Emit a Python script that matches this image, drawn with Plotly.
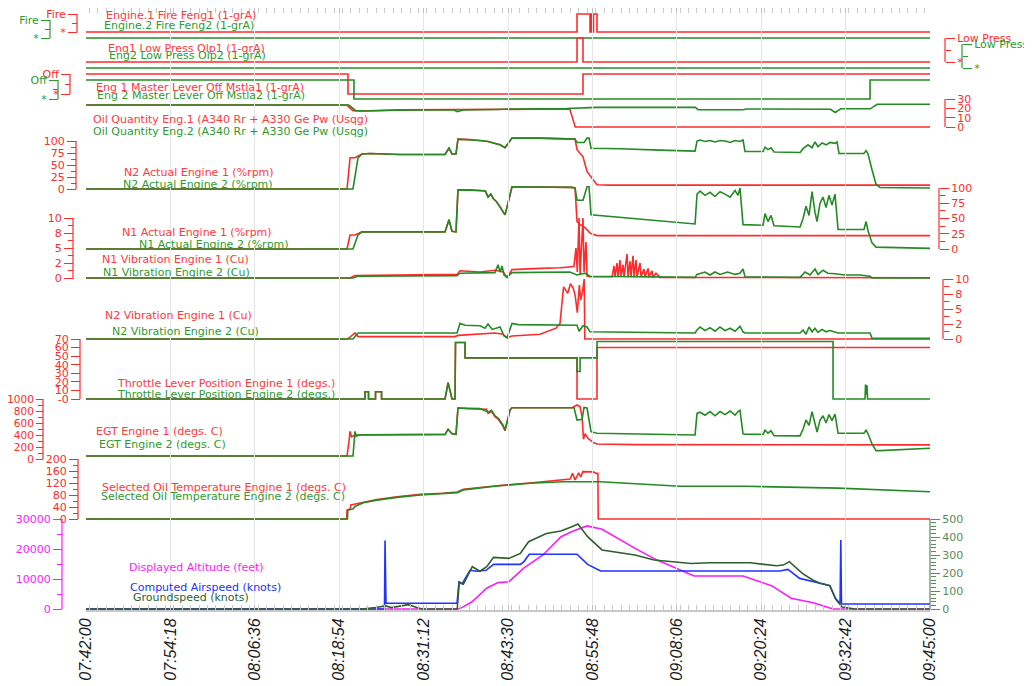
import pandas as pd
import plotly.graph_objects as go

W, H = 1032, 686
START = pd.Timestamp("2000-01-01 07:42:00")
SPAN_MIN = 123.0

# ---------------- data: (minutes after 07:42:00, value) ----------------
fire_eng1 = [(0, 0), (71.56, 1), (73.45, 0), (73.60, 1), (73.82, 0), (73.96, 1), (74.47, 0), (123, 0)]
fire_eng2 = [(0, 0), (123, 0)]
lowpress_eng1 = [(0, 0), (71.56, 1), (72.43, 0), (123, 0)]
lowpress_eng2 = [(0, 0), (123, 0)]
master_eng1 = [(0, 1), (38.18, 0), (72.43, 1), (123, 1)]
master_eng2 = [(0, 1), (39.05, 0), (114.26, 1), (123, 1)]

oilqty_eng1 = [(0, 23.5), (38.0, 23.5), (38.9, 17.5), (40.2, 17.2), (45.8, 18.3), (54.0, 18.8),
               (62.0, 19.3), (70.5, 19.3), (71.3, 0), (123, 0)]
oilqty_eng2 = [(0, 23.5), (38.3, 23.5), (39.3, 17.5), (40.5, 17.2), (45.0, 18.0), (53.5, 18.5),
               (54.1, 16.5), (55.0, 18.3), (60.0, 18.8), (62.1, 19.3), (70.0, 19.8), (73.5, 20.3),
               (74.5, 21.0), (88.8, 21.0), (89.2, 18.5), (95.75, 18.5), (96.2, 19.3), (108.5, 19.0),
               (109.2, 15.5), (109.6, 17.5), (110.0, 19.5), (114.3, 19.5), (115.3, 24.3), (123, 24.3)]

n2_eng1 = [(0, 0), (38.04, 0), (38.48, 65), (39.20, 65), (40.22, 73), (41.39, 74), (45.76, 72),
           (52.32, 72), (52.90, 85), (53.34, 73), (53.92, 73), (54.21, 104), (55.96, 103),
           (57.42, 101), (58.59, 99), (59.61, 95), (60.34, 92), (61.06, 86), (61.50, 95),
           (62.08, 106), (66.17, 106), (70.83, 105), (71.27, 104), (71.56, 82), (72.43, 67),
           (73.02, 36), (73.89, 19), (74.47, 9), (76.37, 8), (123, 8)]
n2_eng2 = [(0, 0), (38.91, 0), (39.64, 65), (40.22, 73), (41.39, 74), (45.76, 72), (52.32, 72),
           (52.90, 85), (53.34, 73), (53.92, 73), (54.21, 104), (55.96, 103), (57.42, 101),
           (58.59, 99), (59.61, 95), (60.34, 92), (61.06, 86), (61.50, 95), (62.08, 106),
           (66.17, 106), (70.83, 105), (71.27, 104), (71.56, 97), (72.58, 97), (73.02, 106),
           (73.31, 106), (73.60, 85), (77.82, 84), (83.65, 81), (88.76, 79), (89.05, 100),
           (89.49, 102), (90.22, 99), (90.94, 101), (91.67, 98), (92.40, 101), (93.13, 100),
           (93.86, 97), (94.59, 101), (95.31, 99), (95.75, 102), (96.04, 78), (98.67, 78),
           (98.96, 87), (99.39, 82), (99.83, 86), (100.27, 77), (104.06, 76), (104.50, 84),
           (105.22, 92), (105.81, 86), (106.24, 98), (106.68, 88), (107.26, 96), (107.85, 92),
           (108.43, 97), (109.16, 95), (109.45, 98), (109.74, 74), (113.38, 74), (113.68, 80),
           (113.97, 73), (114.55, 40), (115.13, 10), (115.72, 3), (123, 2)]

n1_eng1 = [(0, 0), (38.04, 0), (38.48, 23), (39.20, 23), (40.22, 28), (52.32, 28), (52.90, 48),
           (53.34, 29), (53.92, 28), (54.21, 97), (55.96, 97), (57.42, 96), (58.2, 95), (58.6, 85),
           (59.0, 90), (59.4, 82), (59.8, 78), (60.3, 70), (60.8, 62), (61.06, 56), (61.50, 75),
           (62.08, 102), (70.83, 101), (71.27, 100), (71.56, 45), (72.00, 40), (72.73, 35),
           (73.45, 26), (74.47, 22), (123, 22)]
n1_eng2 = [(0, 0), (38.91, 0), (39.64, 23), (40.22, 28), (52.32, 28), (52.90, 48), (53.34, 29),
           (53.92, 28), (54.21, 97), (55.96, 97), (57.42, 96), (58.2, 95), (58.6, 85), (59.0, 90),
           (59.4, 82), (59.8, 78), (60.3, 70), (60.8, 62), (61.06, 56), (61.50, 75), (62.08, 102),
           (70.83, 101), (71.27, 100), (71.56, 80), (72.43, 80), (73.02, 102), (73.31, 102),
           (73.60, 56), (77.82, 52), (83.65, 46), (88.76, 41), (89.05, 90), (89.49, 95),
           (90.22, 88), (90.94, 93), (91.67, 86), (92.40, 94), (93.13, 90), (93.86, 85),
           (94.59, 96), (95.02, 88), (95.31, 100), (95.75, 40), (98.67, 39), (98.96, 58),
           (99.39, 45), (99.83, 55), (100.27, 38), (104.06, 36), (104.50, 50), (104.93, 70),
           (105.37, 55), (105.81, 94), (106.24, 60), (106.54, 45), (106.97, 75), (107.41, 85),
           (107.85, 68), (108.28, 88), (108.72, 72), (109.16, 90), (109.60, 32), (113.38, 32),
           (113.68, 45), (113.97, 30), (114.55, 10), (115.13, 3), (123, 1)]

n1vib_eng1 = [(0, 0), (38.48, 0), (39.2, 0.4), (45.8, 0.5), (54.07, 0.6), (54.5, 1.2), (57.4, 1.0),
              (59.6, 1.3), (60.8, 1.0), (61.36, 0.1), (62.08, 1.4), (66.2, 1.6), (69.1, 1.7),
              (71.1, 1.9), (71.41, 5.0), (71.6, 1.0), (71.85, 10), (72.0, 0.5), (72.43, 10),
              (72.58, 1.0), (72.87, 6.0), (73.02, 0.3), (73.45, 0.2), (76.66, 0.2), (76.95, 2.0),
              (77.10, 0.2), (77.39, 2.5), (77.54, 0.2), (77.82, 3.0), (77.97, 0.3), (78.26, 2.2),
              (78.41, 0.2), (78.85, 4.0), (78.99, 0.3), (79.28, 2.8), (79.43, 0.2), (79.72, 3.7),
              (79.87, 0.3), (80.16, 3.0), (80.30, 0.2), (80.74, 2.5), (80.89, 0.2), (81.32, 1.5),
              (81.47, 0.2), (81.91, 1.6), (82.05, 0.2), (82.49, 1.2), (82.64, 0.1), (83.07, 0.8),
              (83.65, 0.1), (123, 0.05)]
n1vib_eng2 = [(0, 0), (38.91, 0), (39.64, 0.3), (54.07, 0.4), (54.5, 0.8), (59.6, 0.9), (60.05, 2.2),
              (60.34, 1.0), (60.63, 2.0), (60.92, 0.5), (61.36, 0.1), (62.08, 0.9), (70.5, 1.0),
              (71.56, 0.5), (72.73, 0.8), (73.45, 0.3), (88.76, 0.1), (89.05, 0.6), (90.22, 1.0),
              (90.94, 0.5), (91.67, 1.0), (92.40, 0.6), (93.5, 1.0), (94.59, 0.6), (95.31, 0.8),
              (95.75, 1.5), (96.04, 0.2), (104.06, 0.1), (104.79, 1.0), (105.52, 0.5), (106.24, 1.5),
              (106.68, 0.6), (107.41, 1.3), (108.1, 0.8), (109.16, 0.7), (110.6, 0.5), (112.8, 0.5),
              (114.26, 0.3), (114.55, 0), (123, 0)]

n2vib_eng1 = [(0, 0), (38.04, 0), (38.48, 0.3), (39.2, 1.0), (39.64, 0.4), (53.78, 0.4), (54.21, 0.6),
              (57.42, 0.8), (59.61, 1.0), (60.77, 0.8), (61.36, 0.2), (62.08, 0.5), (66.17, 0.8),
              (68.5, 1.8), (69.08, 2.6), (69.6, 8.7), (70.2, 7.6), (70.6, 9.2), (71.0, 8.5),
              (71.3, 7.2), (71.6, 4.4), (71.9, 9.0), (72.1, 6.5), (72.4, 8.2), (72.6, 10),
              (72.7, 0), (123, 0)]
n2vib_eng2 = [(0, 0), (38.91, 0), (39.64, 1.0), (54.07, 1.0), (54.5, 2.6), (55.24, 2.3), (57.42, 2.2),
              (58.15, 1.8), (58.59, 2.5), (59.2, 1.6), (60.34, 2.0), (60.92, 0.5), (61.36, 0.2),
              (62.08, 2.6), (63.0, 2.4), (70.54, 2.4), (71.56, 2.3), (71.85, 1.3), (72.43, 2.2),
              (73.02, 2.0), (73.45, 1.2), (88.76, 1.0), (89.05, 1.5), (89.49, 2.0), (90.22, 1.4),
              (90.94, 1.9), (91.67, 1.3), (92.40, 2.0), (93.13, 1.4), (93.86, 1.8), (94.59, 1.3),
              (95.31, 2.1), (95.75, 1.2), (96.04, 1.0), (104.06, 1.0), (104.50, 1.5), (104.93, 0.8),
              (105.37, 2.0), (105.81, 1.2), (106.24, 1.8), (106.68, 1.1), (107.26, 1.6),
              (107.85, 1.2), (108.43, 1.4), (109.16, 1.1), (109.60, 1.0), (114.26, 1.0),
              (114.55, 0.1), (123, 0.1)]

tla_eng1 = [(0, 0), (40.66, 0), (40.66, 8.5), (41.17, 8.5), (41.17, 0), (42.19, 0), (42.19, 8.5),
            (43.07, 8.5), (43.07, 0), (52.32, 0), (52.61, 12), (52.76, 19), (53.05, 10), (53.34, 0),
            (53.78, 0), (53.85, 66), (55.24, 66), (55.24, 48), (71.56, 48), (71.56, 0), (74.47, 0),
            (74.47, 60), (123, 60)]
tla_eng2 = [(0, 0), (40.66, 0), (40.66, 8.5), (41.17, 8.5), (41.17, 0), (42.19, 0), (42.19, 8.5),
            (43.07, 8.5), (43.07, 0), (52.32, 0), (52.61, 12), (52.76, 19), (53.05, 10), (53.34, 0),
            (53.78, 0), (53.85, 66), (55.24, 66), (55.24, 48), (71.56, 48), (71.56, 32), (72.0, 32),
            (72.0, 48), (74.47, 48), (74.47, 67), (108.87, 67), (108.87, 0), (113.53, 0),
            (113.6, 17), (113.75, 5), (113.82, 16), (113.9, 0), (123, 0)]

egt_eng1 = [(0, 50), (38.04, 50), (38.33, 300), (38.48, 460), (38.7, 370), (39.2, 400), (40.5, 400),
            (52.32, 410), (52.76, 495), (53.34, 420), (53.92, 410), (54.21, 850), (55.5, 840),
            (57.42, 830), (58.4, 830), (58.6, 760), (59.1, 790), (59.6, 705), (60.1, 660),
            (60.8, 540), (61.06, 470), (61.8, 815), (62.08, 855), (70.83, 855), (71.27, 880),
            (71.56, 900), (72.0, 870), (72.3, 700), (72.5, 330), (72.73, 420), (73.2, 340),
            (74.0, 270), (74.47, 250), (80, 240), (123, 235)]
egt_eng2 = [(0, 50), (38.91, 50), (39.2, 460), (39.4, 380), (39.7, 400), (40.5, 405), (52.32, 410),
            (52.76, 495), (53.34, 420), (53.92, 410), (54.21, 850), (57.42, 840), (58.6, 780),
            (59.1, 810), (59.6, 720), (60.1, 680), (60.8, 560), (61.06, 480), (61.8, 820),
            (62.08, 855), (71.12, 855), (71.56, 650), (72.3, 660), (72.58, 860), (73.02, 850),
            (73.6, 455), (74.47, 430), (88.76, 400), (89.05, 760), (89.49, 780), (90.22, 730),
            (90.94, 790), (91.67, 720), (92.40, 790), (93.13, 740), (93.86, 800), (94.59, 730),
            (95.02, 790), (95.31, 810), (95.75, 420), (96.04, 415), (98.67, 410), (98.96, 480),
            (99.39, 430), (99.83, 470), (100.27, 390), (104.06, 385), (104.50, 500), (104.93, 650),
            (105.37, 560), (105.81, 790), (106.24, 580), (106.54, 450), (106.97, 650),
            (107.41, 720), (107.85, 600), (108.28, 740), (108.72, 640), (109.16, 750),
            (109.60, 430), (113.38, 430), (113.68, 480), (113.97, 420), (114.55, 250),
            (115.13, 140), (115.72, 140), (123, 180)]

oiltemp_eng1 = [(0, 0), (38.0, 0), (38.04, 30), (38.5, 33), (38.6, 47), (40.4, 56), (42.4, 65),
                (45.3, 74), (48.7, 82), (52, 86), (54.1, 90), (55, 99), (59.9, 111), (64.7, 120),
                (69.08, 128), (70.54, 133), (70.9, 152), (71.27, 130), (71.8, 154), (72.1, 140),
                (72.4, 158), (73.0, 158), (73.9, 157), (74.4, 152), (74.6, 152), (74.65, 0), (123, 0)]
oiltemp_eng2 = [(0, 0), (38.1, 0), (38.15, 30), (38.9, 33), (39.2, 42), (40.4, 54), (42.4, 63),
                (45.3, 72), (48.7, 80), (52, 84), (54.1, 88), (55.0, 97), (59.9, 110), (64.7, 119),
                (69.5, 124), (74.9, 124), (79.3, 119), (86.6, 109), (96, 109), (104, 106),
                (109.6, 103), (123, 91)]

altitude = [(0, 0), (54.07, 0), (54.65, 300), (56.26, 2400), (58.44, 7000), (60.05, 8800),
            (61.65, 9100), (63.83, 13700), (66.6, 18000), (69.23, 24100), (70.83, 25800),
            (73.02, 27700), (75.2, 26600), (80.01, 20200), (83.22, 16300), (88.61, 11000),
            (95.75, 11000), (99.98, 7700), (102.75, 3600), (105.95, 2100), (108.87, 0), (123, 0)]
airspeed = [(0, 0), (43.5, 0), (43.58, 380), (43.72, 32), (54.07, 32), (54.36, 150), (54.8, 140),
            (55.96, 215), (57.0, 210), (58.3, 215), (59.4, 248), (63.3, 248), (63.8, 262),
            (64.6, 304), (71.56, 304), (73.1, 248), (75.0, 211), (101.1, 211), (102.3, 220),
            (104.0, 170), (106.2, 150), (108.4, 130), (109.2, 60), (109.9, 32), (110.0, 383),
            (110.1, 28), (123, 28)]
groundspeed = [(0, 0), (40.2, 0), (42.2, 8), (43.7, 17), (44.5, 8), (46.0, 20), (47.0, 24),
               (48.2, 8), (49.0, 0), (54.1, 0), (54.4, 150), (55.0, 138), (56.3, 235), (57.4, 210),
               (58.4, 235), (59.4, 287), (61.6, 281), (63.3, 309), (64.5, 374), (67.1, 420),
               (69.2, 433), (70.8, 457), (71.7, 472), (73.1, 402), (75.2, 328), (80.0, 300),
               (82.8, 272), (88.2, 253), (90.8, 257), (96.8, 257), (100.6, 240), (101.6, 244),
               (102.5, 263), (104.4, 198), (105.9, 161), (106.9, 145), (108.4, 130), (109.3, 52),
               (110.2, 11), (111.2, 5), (112.0, 0), (123, 0)]

# ---------------- styling ----------------
FONT = "DejaVu Sans"
RED = "#ff2b2b"
RED_T = "#ff3a3a"
GREEN = "#248a24"
GREEN_T = "#2f9a2f"
MAGENTA = "#ff1aff"
BLUE = "#2233ff"
GS_COL = "#2f5f2f"
SPD_COL = "#5b8a5b"
LW = 1.6

# the page places the figure 8 px in from the window corner; positions below are window pixels
OFF = 8
PLOT_TOP, PLOT_BOT = 8, 610
X_LEFT, X_RIGHT = 86, 930


def fx(px):
    return (px - OFF) / W


def fy(py):
    return (PLOT_BOT - py) / (PLOT_BOT - PLOT_TOP)


def yrange(v0, p0, v1, p1):
    k = (v1 - v0) / (p1 - p0)
    return [v0 + (PLOT_BOT - p0) * k, v0 + (PLOT_TOP - p0) * k]


def to_xy(pts):
    t, v = zip(*pts)
    return [START + pd.Timedelta(minutes=m) for m in t], list(v)


# key, side, x pixel, (value, pixel, value, pixel), colour, ticks, labels, minor ticks, tick length, font size
axis_specs = [
    ("fire1", "left", 77, (0, 32, 1, 14), RED, [0, 1], ["*", "Fire"], [0.5], 9, 11),
    ("fire2", "left", 50, (0, 38, 1, 20), GREEN_T, [0, 1], ["*", "Fire"], [0.5], 9, 11),
    ("olp1", "right", 945, (0, 62, 1, 38), RED, [0, 1], ["*", "Low Press"], [0.5], 9, 11),
    ("olp2", "right", 962, (0, 68, 1, 44), GREEN_T, [0, 1], ["*", "Low Press"], [0.5], 9, 11),
    ("mst1", "left", 70, (0, 94, 1, 74), RED, [0, 1], ["*", "Off"], [0.5], 9, 11),
    ("mst2", "left", 58, (0, 99, 1, 80), GREEN_T, [0, 1], ["*", "Off"], [0.5], 9, 11),
    ("oilq", "right", 945, (0, 127, 30, 99), RED, [0, 10, 20, 30], ["0", "10", "20", "30"], [], 9, 11),
    ("n2", "left", 76, (0, 189, 100, 141), RED, [0, 25, 50, 75, 100], ["0", "25", "50", "75", "100"],
     [12.5, 37.5, 62.5, 87.5], 9, 11),
    ("n1", "right", 939, (0, 249, 100, 188), RED, [0, 25, 50, 75, 100], ["0", "25", "50", "75", "100"],
     [12.5, 37.5, 62.5, 87.5], 9, 11),
    ("n1v", "left", 73, (0, 278, 10, 218), RED, [0, 2.5, 5, 7.5, 10], ["0", "2", "5", "8", "10"],
     [1.25, 3.75, 6.25, 8.75], 9, 11),
    ("n2v", "right", 943, (0, 339, 10, 279), RED, [0, 2.5, 5, 7.5, 10], ["0", "2", "5", "8", "10"],
     [1.25, 3.75, 6.25, 8.75], 9, 11),
    ("tla", "left", 80, (0, 399, 70, 339), RED, [0, 10, 20, 30, 40, 50, 60, 70],
     ["-0", "10", "20", "30", "40", "50", "60", "70"], [], 9, 11),
    ("egt", "left", 43, (0, 459, 1000, 399), RED, [0, 200, 400, 600, 800, 1000],
     ["0", "200", "400", "600", "800", "1000"], [100, 300, 500, 700, 900], 7, 10.5),
    ("oilt", "left", 78, (0, 519, 200, 459), RED, [0, 40, 80, 120, 160, 200],
     ["0", "40", "80", "120", "160", "200"], [20, 60, 100, 140, 180], 9, 11),
    ("alt", "left", 62, (0, 609, 30000, 519), MAGENTA, [0, 10000, 20000, 30000],
     ["0", "10000", "20000", "30000"], [5000, 15000, 25000], 9, 11),
    ("spd", "right", 930, (0, 609, 500, 519), SPD_COL, [0, 100, 200, 300, 400, 500],
     ["0", "100", "200", "300", "400", "500"], [v for v in range(20, 500, 20) if v % 100], 9, 11),
]

layout_axes = {}
axis_ref = {}
shapes = []
for i, (key, side, xpx, cal, col, tv, tt, mv, tl, fs) in enumerate(axis_specs):
    n = i + 2
    axis_ref[key] = f"y{n}"
    layout_axes[f"yaxis{n}"] = dict(
        overlaying="y", anchor="free", position=fx(xpx), side=side, automargin=False,
        range=yrange(*cal), showgrid=False, zeroline=False, showline=False,
        tickmode="array", tickvals=tv, ticktext=tt, ticklabeloverflow="allow",
        ticks="outside", ticklen=tl, tickwidth=1, tickcolor=col,
        tickfont=dict(family=FONT, size=fs, color=col),
        minor=dict(tickmode="array", tickvals=mv, ticks="outside", ticklen=5,
                   tickwidth=1, tickcolor=col, showgrid=False),
        fixedrange=True,
    )
    shapes.append(dict(type="line", xref="paper", yref=f"y{n}", x0=fx(xpx), x1=fx(xpx),
                       y0=min(tv), y1=max(tv), line=dict(color=col, width=1.2)))

fig = go.Figure()


def add(pts, axis, color, width=LW, shape="linear"):
    x, y = to_xy(pts)
    fig.add_trace(go.Scatter(x=x, y=y, mode="lines", yaxis=axis_ref[axis],
                             line=dict(color=color, width=width, shape=shape),
                             hoverinfo="skip", showlegend=False))


add(fire_eng1, "fire1", RED, shape="hv")
add(fire_eng2, "fire2", GREEN, shape="hv")
add(lowpress_eng1, "olp1", RED, shape="hv")
add(lowpress_eng2, "olp2", GREEN, shape="hv")
add(master_eng1, "mst1", RED, shape="hv")
add(master_eng2, "mst2", GREEN, shape="hv")
add(oilqty_eng1, "oilq", RED)
add(oilqty_eng2, "oilq", GREEN)
add(n2_eng1, "n2", RED)
add(n2_eng2, "n2", GREEN)
add(n1_eng1, "n1", RED)
add(n1_eng2, "n1", GREEN)
add(n1vib_eng1, "n1v", RED)
add(n1vib_eng2, "n1v", GREEN)
add(n2vib_eng1, "n2v", RED)
add(n2vib_eng2, "n2v", GREEN)
add(tla_eng1, "tla", RED)
add(tla_eng2, "tla", GREEN)
add(egt_eng1, "egt", RED)
add(egt_eng2, "egt", GREEN)
add(oiltemp_eng1, "oilt", RED)
add(oiltemp_eng2, "oilt", GREEN)
add(airspeed, "spd", BLUE)
add(groundspeed, "spd", GS_COL)
add(altitude, "alt", MAGENTA)

labels = [
    ("Engine.1 Fire Feng1 (1-grA)", RED_T, 105, 15.5),
    ("Engine.2 Fire Feng2 (1-grA)", GREEN_T, 103, 26),
    ("Eng1 Low Press Olp1 (1-grA)", RED_T, 107, 49),
    ("Eng2 Low Press Olp2 (1-grA)", GREEN_T, 108, 55.5),
    ("Eng 1 Master Lever Off Mstla1 (1-grA)", RED_T, 95, 87),
    ("Eng 2 Master Lever Off Mstla2 (1-grA)", GREEN_T, 96, 95),
    ("Oil Quantity Eng.1 (A340 Rr + A330 Ge Pw (Usqg)", RED_T, 92, 119),
    ("Oil Quantity Eng.2 (A340 Rr + A330 Ge Pw (Usqg)", GREEN_T, 92, 131.5),
    ("N2 Actual Engine 1 (%rpm)", RED_T, 123, 172),
    ("N2 Actual Engine 2 (%rpm)", GREEN_T, 122, 184),
    ("N1 Actual Engine 1 (%rpm)", RED_T, 121, 232),
    ("N1 Actual Engine 2 (%rpm)", GREEN_T, 138, 244.5),
    ("N1 Vibration Engine 1 (Cu)", RED_T, 101, 259.5),
    ("N1 Vibration Engine 2 (Cu)", GREEN_T, 102, 272),
    ("N2 Vibration Engine 1 (Cu)", RED_T, 104, 315),
    ("N2 Vibration Engine 2 (Cu)", GREEN_T, 111, 331.5),
    ("Throttle Lever Position Engine 1 (degs.)", RED_T, 116, 383),
    ("Throttle Lever Position Engine 2 (degs.)", GREEN_T, 116, 394),
    ("EGT Engine 1 (degs. C)", RED_T, 95, 431),
    ("EGT Engine 2 (degs. C)", GREEN_T, 98, 445),
    ("Selected Oil Temperature Engine 1 (degs. C)", RED_T, 101, 487),
    ("Selected Oil Temperature Engine 2 (degs. C)", GREEN_T, 100, 496),
    ("Displayed Altitude (feet)", MAGENTA, 128, 567),
    ("Computed Airspeed (knots)", BLUE, 129, 587),
    ("Groundspeed (knots)", GS_COL, 132, 597),
]
annotations = [
    dict(text=t, x=fx(xp), y=fy(yp), xref="paper", yref="paper",
         xanchor="left", yanchor="middle", showarrow=False, borderpad=0,
         font=dict(family=FONT, size=11, color=c))
    for t, c, xp, yp in labels
]

fig.update_layout(
    template="none",
    width=W, height=H, autosize=False,
    margin=dict(l=0, r=0, t=PLOT_TOP - OFF, b=H - (PLOT_BOT - OFF), pad=0, autoexpand=False),
    paper_bgcolor="white", plot_bgcolor="rgba(0,0,0,0)",
    showlegend=False,
    xaxis=dict(
        domain=[fx(X_LEFT), fx(X_RIGHT)], type="date", automargin=False,
        range=[START, START + pd.Timedelta(minutes=SPAN_MIN)],
        tick0=START, dtick=738000, tickformat="%H:%M:%S", tickangle=-90,
        tickfont=dict(family="Liberation Sans", size=16, color="#1a1a1a", style="italic"),
        showgrid=True, gridcolor="#e6e6e6", gridwidth=1, zeroline=False,
        showline=True, linecolor="#c8c8c8", linewidth=2, mirror="allticks",
        ticks="inside", ticklen=5, tickcolor="#c0c0c0",
        minor=dict(dtick=73800, ticks="inside", ticklen=3, tickcolor="#c8c8c8", showgrid=False),
        fixedrange=True,
    ),
    yaxis=dict(
        range=[0, 20], tick0=0, dtick=1, showgrid=True, gridcolor="#e6e6e6", gridwidth=1,
        automargin=False,
        zeroline=False, showticklabels=False, ticks="inside", ticklen=5, tickcolor="#c0c0c0",
        showline=True, linecolor="#c8c8c8", linewidth=2, mirror="allticks",
        minor=dict(dtick=0.2, ticks="inside", ticklen=3, tickcolor="#c8c8c8", showgrid=False),
        fixedrange=True,
    ),
    shapes=shapes,
    annotations=annotations,
    **layout_axes,
)

fig.write_html("out.html")
